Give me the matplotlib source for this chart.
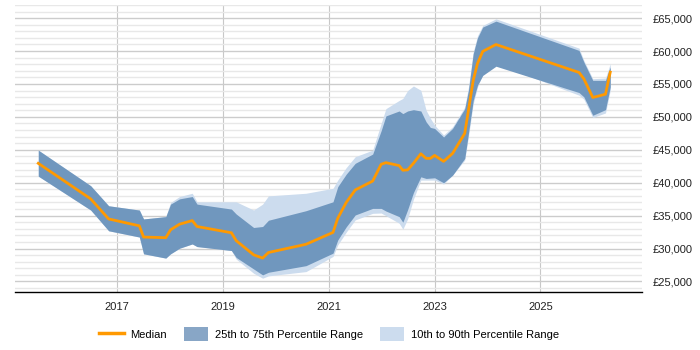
import matplotlib
matplotlib.use('Agg')
import matplotlib.pyplot as plt
from matplotlib.patches import Patch
from matplotlib.lines import Line2D
from matplotlib.ticker import MultipleLocator, FuncFormatter

plt.rcParams['font.family'] = ['Liberation Sans', 'DejaVu Sans']

# decimal years of each sample
years = [2015.51, 2016.50, 2016.84, 2017.42, 2017.50, 2017.92, 2018.01, 2018.18, 2018.42, 2018.51,
         2019.16, 2019.25, 2019.58, 2019.75, 2019.86, 2020.57, 2021.08, 2021.17, 2021.33, 2021.50,
         2021.83, 2021.99, 2022.08, 2022.33, 2022.40, 2022.49, 2022.60, 2022.74, 2022.84, 2022.92,
         2023.00, 2023.17, 2023.34, 2023.57, 2023.64, 2023.73, 2023.81, 2023.91, 2024.16, 2025.73,
         2025.82, 2025.99, 2026.23, 2026.32]

median = [42950, 37550, 34500, 33450, 31750, 31650, 32850, 33700, 34250, 33350,
          32400, 31200, 29050, 28550, 29400, 30650, 32450, 34600, 37000, 38900,
          40250, 42800, 43050, 42600, 41900, 41950, 42950, 44400, 43700, 43700,
          44150, 43250, 44450, 47500, 51000, 55550, 58100, 59950, 61000, 56750,
          55800, 52950, 53450, 56800]

p75 = [44950, 39550, 36500, 35850, 34500, 34850, 36750, 37550, 37900, 36750,
       36000, 35250, 33200, 33350, 34300, 35750, 37100, 39400, 41300, 42950,
       44350, 47900, 50150, 50900, 50500, 50900, 51100, 50900, 49250, 48400,
       48250, 46950, 48250, 51250, 54050, 59600, 62000, 63650, 64550, 60100,
       58350, 55550, 55550, 57600]

p25 = [41000, 35850, 32700, 31750, 29200, 28550, 29200, 30050, 30700, 30300,
       29700, 28650, 26900, 26000, 26400, 27400, 29300, 31300, 33300, 35100,
       36100, 36100, 35700, 34850, 34000, 35900, 38500, 40900, 40650, 40700,
       40750, 40000, 41150, 43700, 47500, 52500, 54800, 56300, 57700, 53700,
       53050, 50250, 51100, 54550]

p90 = [44950, 39550, 36500, 35850, 34500, 34850, 37000, 37900, 38400, 37100,
       37100, 37100, 35850, 36750, 38000, 38400, 39150, 40400, 42300, 43950,
       44950, 49000, 51250, 52500, 52800, 54000, 54700, 54050, 51000, 49800,
       48750, 47250, 48500, 51500, 54500, 59850, 62300, 63900, 64900, 60450,
       58600, 55800, 55900, 58100]

p10 = [41000, 35850, 32700, 31750, 29200, 28550, 29200, 30050, 30700, 30300,
       29700, 28400, 26250, 25500, 25850, 26500, 28800, 30550, 32500, 34350,
       35350, 35400, 35000, 33850, 32950, 34500, 37500, 40400, 40400, 40400,
       40400, 39800, 41150, 43450, 47000, 52000, 54500, 56550, 58100, 53300,
       52700, 49900, 50600, 54050]

xticks = [2017, 2019, 2021, 2023, 2025]

light = '#ccdcee'
dark = '#7097be'
orange = '#ff9900'

fig = plt.figure(figsize=(7, 3.5), dpi=100)
ax = fig.add_axes([15/700, 58/350, 627/700, 287/350])

ax.fill_between(years, p10, p90, color=light, lw=0, zorder=2)
ax.fill_between(years, p25, p75, color=dark, lw=0, zorder=3)
ax.plot(years, median, color=orange, lw=2, zorder=4)

ax.set_xlim(2015.07, 2026.92)
ax.set_ylim(23400, 67000)
ax.set_xticks(xticks)
ax.set_xticklabels([str(t) for t in xticks])
ax.yaxis.set_major_locator(MultipleLocator(5000))
ax.yaxis.set_minor_locator(MultipleLocator(1000))
ax.yaxis.set_major_formatter(FuncFormatter(lambda v, p: '£{:,.0f}'.format(v)))
ax.yaxis.tick_right()
ax.set_yticks([25000, 30000, 35000, 40000, 45000, 50000, 55000, 60000, 65000])

ax.grid(axis='y', which='major', color='#cccccc', lw=1, zorder=0)
ax.grid(axis='y', which='minor', color='#e8e8e8', lw=1, zorder=0)
ax.grid(axis='x', which='major', color='#c8c8c8', lw=0.8, zorder=0)
ax.set_axisbelow(True)

for s in ['top', 'right', 'left']:
    ax.spines[s].set_visible(False)
ax.spines['bottom'].set_color('#000000')
ax.spines['bottom'].set_linewidth(1)
ax.tick_params(axis='both', which='both', length=0, labelsize=8, colors='#222222')
ax.tick_params(axis='x', pad=7)
ax.tick_params(axis='y', pad=8)

handles = [Line2D([0], [0], color=orange, lw=2.5),
           Patch(facecolor='#88a6c6', edgecolor='none'),
           Patch(facecolor=light, edgecolor='none')]
labels = ['Median', '25th to 75th Percentile Range', '10th to 90th Percentile Range']
fig.legend(handles, labels, loc='center', bbox_to_anchor=(0.47, 0.045), ncol=3, frameon=False,
           fontsize=8, handlelength=2.2, handleheight=1.5, columnspacing=1.5, handletextpad=0.6)

fig.savefig('out.png', dpi=100)
